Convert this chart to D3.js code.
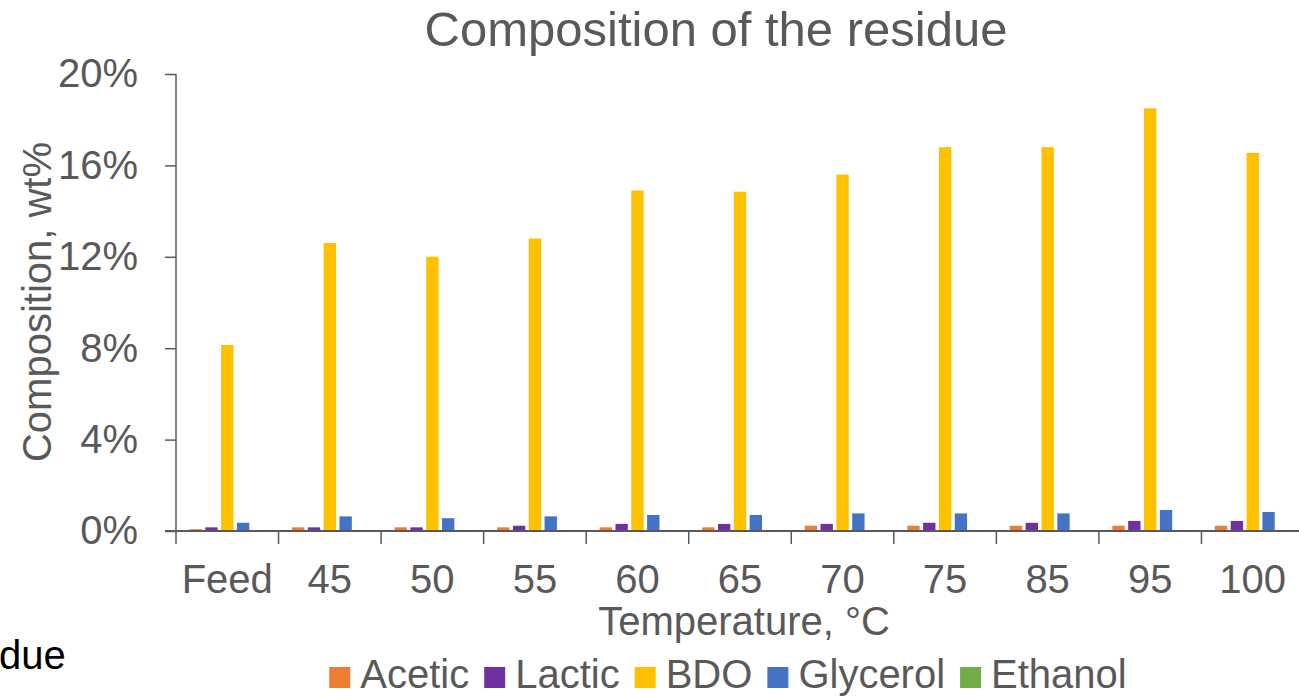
<!DOCTYPE html>
<html>
<head>
<meta charset="utf-8">
<script src="https://cdn.jsdelivr.net/npm/d3@7"></script>
<style>
  html, body { margin: 0; padding: 0; background: #fff; overflow: hidden; }
  svg { display: block; font-family: "Liberation Sans", Arial, sans-serif; }
</style>
</head>
<body>
<svg id="chart" width="1299" height="699"></svg>
<script>
// Temperatures (°C) of each residue sample
const categories = ["Feed", "45", "50", "55", "60", "65", "70", "75", "85", "95", "100"];
const seriesNames = ["Acetic", "Lactic", "BDO", "Glycerol", "Ethanol"];
const seriesColors = ["#ED7D31", "#7030A0", "#FFC000", "#4472C4", "#70AD47"];

// Composition in wt% (fraction) for each component
const acetic   = [0.0008, 0.0016, 0.0016, 0.0016, 0.0016, 0.0016, 0.0023, 0.0023, 0.0023, 0.0023, 0.0023];
const lactic   = [0.0016, 0.0016, 0.0016, 0.0023, 0.0031, 0.0031, 0.0031, 0.0036, 0.0036, 0.0044, 0.0044];
const bdo      = [0.0814, 0.1260, 0.1200, 0.1280, 0.1490, 0.1485, 0.1560, 0.1680, 0.1680, 0.1850, 0.1655];
const glycerol = [0.0036, 0.0064, 0.0056, 0.0064, 0.0070, 0.0070, 0.0077, 0.0077, 0.0077, 0.0092, 0.0083];
const ethanol  = [0, 0, 0, 0, 0, 0, 0, 0, 0, 0, 0];

const yTicks = [0, 0.04, 0.08, 0.12, 0.16, 0.20];

const seriesValues = [acetic, lactic, bdo, glycerol, ethanol];
const textColor = "#595959";
const axisColor = "#595959";
const fontSize = 40;

const svg = d3.select("#chart");

const plot = { left: 176, right: 1304, top: 74, bottom: 531 };

const x0 = d3.scaleBand().domain(categories).range([plot.left, plot.right]).padding(0);
const x1 = d3.scaleBand().domain(seriesNames).range([0, x0.bandwidth()])
  .paddingInner(0.22).paddingOuter(0.85);
const y = d3.scaleLinear().domain([0, 0.20]).range([plot.bottom, plot.top]);

// Bars
const groups = svg.append("g").selectAll("g")
  .data(categories)
  .join("g")
  .attr("transform", d => `translate(${x0(d)},0)`);

groups.selectAll("rect")
  .data((c, i) => seriesNames.map((s, j) => ({ s, j, v: seriesValues[j][i] })))
  .join("rect")
  .attr("x", d => x1(d.s))
  .attr("width", x1.bandwidth())
  .attr("y", d => y(d.v))
  .attr("height", d => y(0) - y(d.v))
  .attr("fill", d => seriesColors[d.j]);

// Y axis
const yAxis = d3.axisLeft(y).tickValues(yTicks).tickSize(11).tickPadding(27)
  .tickFormat(d3.format(".0%"));
const gy = svg.append("g").attr("transform", `translate(${plot.left},0)`).call(yAxis);
gy.select(".domain").remove();
gy.selectAll(".tick line").attr("stroke", axisColor).attr("stroke-width", 1.5);
gy.selectAll(".tick text").attr("fill", textColor).attr("font-size", fontSize)
  .attr("font-family", "Liberation Sans, Arial, sans-serif");
gy.append("line").attr("x1", 0).attr("x2", 0).attr("y1", plot.top).attr("y2", plot.bottom)
  .attr("stroke", axisColor).attr("stroke-width", 1.5);

// X axis: baseline, category boundary ticks and labels
const gx = svg.append("g").attr("transform", `translate(0,${plot.bottom})`);
gx.append("line").attr("x1", plot.left - 11).attr("x2", 1299).attr("y1", 0).attr("y2", 0)
  .attr("stroke", axisColor).attr("stroke-width", 2);
const boundaries = categories.map(c => x0(c)).concat([plot.right]);
gx.selectAll("line.tick").data(boundaries).join("line")
  .attr("class", "tick")
  .attr("x1", d => d).attr("x2", d => d).attr("y1", 0).attr("y2", 13)
  .attr("stroke", axisColor).attr("stroke-width", 1.5);
gx.selectAll("text").data(categories).join("text")
  .attr("x", d => x0(d) + x0.bandwidth() / 2)
  .attr("y", 62)
  .attr("text-anchor", "middle")
  .attr("fill", textColor)
  .attr("font-size", fontSize)
  .text(d => d);

// Title
svg.append("text").attr("x", 716).attr("y", 46).attr("text-anchor", "middle")
  .attr("fill", textColor).attr("font-size", 49).text("Composition of the residue");

// Axis titles
svg.append("text").attr("transform", "translate(51,302) rotate(-90)")
  .attr("text-anchor", "middle").attr("fill", textColor).attr("font-size", fontSize)
  .text("Composition, wt%");
svg.append("text").attr("x", 744).attr("y", 635).attr("text-anchor", "middle")
  .attr("fill", textColor).attr("font-size", fontSize).text("Temperature, °C");

// Caption fragment at the lower left
svg.append("text").attr("x", -1).attr("y", 669).attr("fill", "#000")
  .attr("font-size", fontSize).text("due");

// Legend
const legend = svg.append("g");
const items = legend.selectAll("g").data(seriesNames).join("g");
items.append("rect").attr("width", 21).attr("height", 21).attr("y", -21)
  .attr("fill", (d, i) => seriesColors[i]);
items.append("text").attr("x", 31).attr("y", 0).attr("fill", textColor)
  .attr("font-size", fontSize).text(d => d);
let cx = 0;
const gap = 15;
items.each(function () {
  const w = 31 + this.querySelector("text").getComputedTextLength();
  d3.select(this).attr("transform", `translate(${cx},0)`);
  cx += w + gap;
});
const totalW = cx - gap;
legend.attr("transform", `translate(${728 - totalW / 2},688)`);
</script>
</body>
</html>
